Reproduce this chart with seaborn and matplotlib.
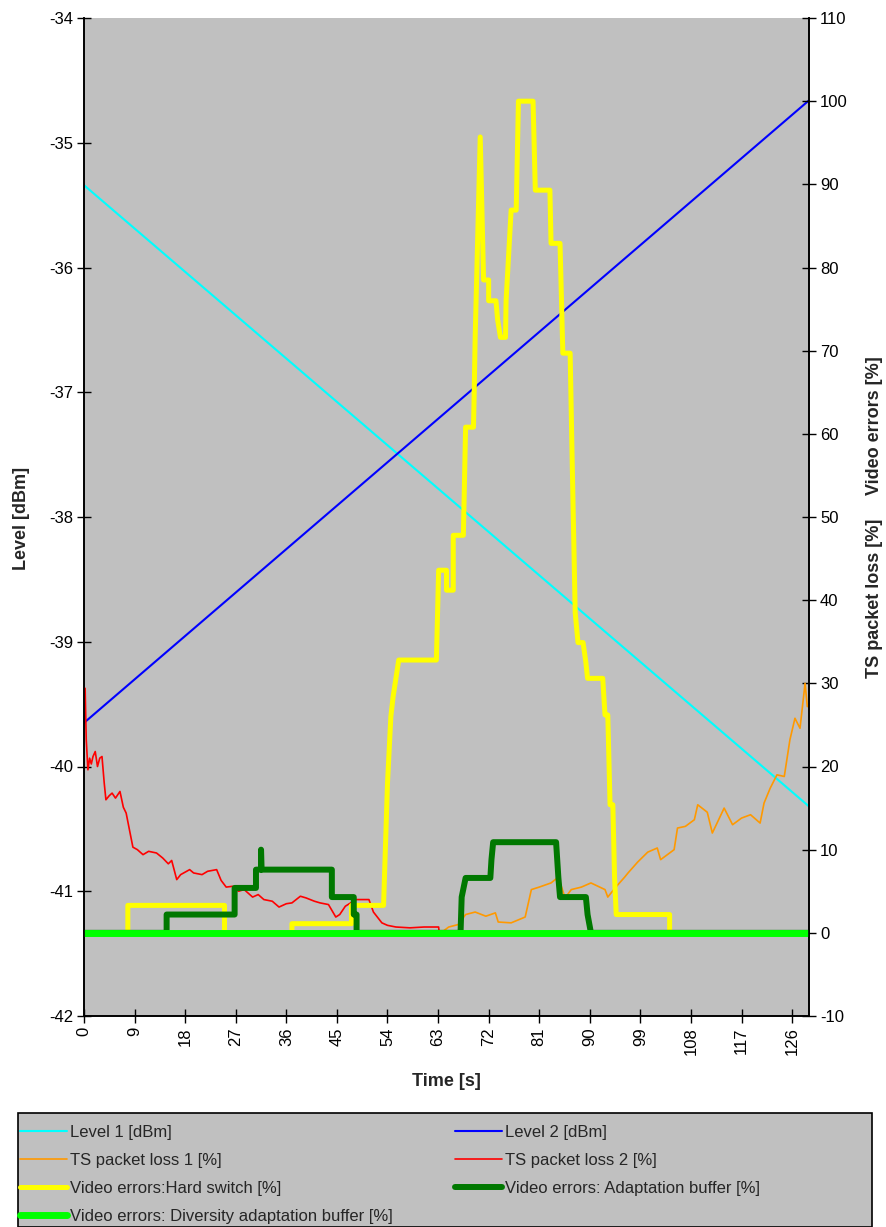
import numpy as np
import pandas as pd
import matplotlib
matplotlib.use("Agg")
import matplotlib.pyplot as plt
import seaborn as sns

# ---- data ----
level_t = [0, 129]
level1 = [-35.34, -40.32]
level2 = [-39.65, -34.66]

loss2_t = [0, 0.2, 0.4, 0.7, 1.0, 1.3, 1.6, 2.0, 2.4, 2.8, 3.2, 3.6, 3.9, 4.5,
           5.0, 5.6, 6.4, 7.0, 7.5, 8.2, 8.7, 9.5, 10.5, 11.5, 12.9, 14.0,
           15.0, 15.6, 16.5, 17.2, 18.8, 19.5, 21.0, 22.0, 23.6, 24.4, 25.3,
           26.5, 27.5, 28.5, 30.0, 31.0, 32.0, 33.5, 34.7, 36.0, 37.0, 38.5,
           39.5, 41.0, 42.0, 43.5, 44.8, 45.5, 46.5, 48.4, 50.7, 51.5, 53.0,
           54.0, 55.5, 58.0, 60.5, 63.1, 63.2, 129]
loss2 = [29.4, 29.4, 23.2, 19.6, 21.0, 20.3, 21.2, 21.8, 20.0, 21.0, 21.2, 18.0,
         16.0, 16.5, 16.8, 16.2, 17.0, 15.1, 14.4, 12.0, 10.3, 10.0, 9.4, 9.8,
         9.6, 9.0, 8.3, 8.7, 6.4, 7.0, 7.6, 7.2, 7.0, 7.4, 7.6, 6.3, 5.5,
         5.6, 5.0, 5.2, 4.3, 4.6, 4.0, 3.8, 3.1, 3.5, 3.6, 4.4, 4.2, 3.8,
         3.6, 3.4, 1.9, 2.2, 3.2, 4.0, 4.0, 2.5, 1.2, 0.9, 0.7, 0.6, 0.7,
         0.7, 0, 0]

loss1_t = [0, 63.5, 64.9, 66.6, 67.9, 69.6, 71.5, 73.2, 73.7, 76.0, 78.5, 79.6,
           81.0, 83.1, 84.4, 85.6, 86.7, 88.5, 90.2, 92.7, 93.2, 94.5, 96.2,
           96.8, 98.5, 100.3, 102.0, 102.6, 105.0, 105.6, 107.0, 108.6, 109.2,
           110.9, 111.8, 113.9, 115.4, 117.0, 118.6, 120.3, 121.0, 122.1, 123.3,
           124.6, 125.6, 126.5, 127.4, 128.3, 128.7]
loss1 = [0, 0, 0.7, 1.0, 2.2, 2.5, 2.0, 2.4, 1.3, 1.2, 1.9, 5.2,
         5.5, 6.0, 6.7, 4.2, 5.2, 5.5, 6.0, 5.2, 4.3, 5.4, 6.7,
         7.2, 8.5, 9.7, 10.2, 8.8, 10.0, 12.6, 12.8, 13.6, 15.4,
         14.5, 12.0, 15.0, 13.0, 13.8, 14.2, 13.2, 15.6, 17.4, 19.0,
         18.8, 23.2, 25.8, 24.6, 30.0, 27.2]

hard_t = [0, 7.8, 7.8, 25.0, 25.0, 37.0, 37.0, 47.6, 47.6, 53.3, 54.0, 54.6,
          55.0, 55.5, 56.0, 62.7, 63.1, 64.5, 64.5, 65.7, 65.7, 67.5, 67.9,
          69.3, 69.4, 69.6, 70.5, 71.1, 72.0, 72.0, 73.3, 73.6, 74.1, 75.0,
          75.1, 76.0, 76.9, 77.3, 79.9, 80.3, 82.9, 83.1, 84.7, 85.2, 86.5,
          86.8, 87.4, 87.9, 88.8, 89.3, 89.6, 92.3, 92.7, 93.2, 93.6, 94.1,
          94.4, 94.7, 104.2, 104.2, 129]
hard = [0, 0, 3.3, 3.3, 0, 0, 1.1, 1.1, 3.3, 3.3, 18.0, 26.0,
        28.4, 30.6, 32.8, 32.8, 43.6, 43.6, 41.2, 41.2, 47.8, 47.8, 60.8,
        60.8, 64.0, 71.6, 95.7, 78.5, 78.5, 76.0, 76.0, 73.7, 71.6, 71.6,
        76.0, 86.9, 86.9, 100.0, 100.0, 89.3, 89.3, 82.9, 82.9, 69.7, 69.7,
        58.9, 38.5, 34.9, 34.9, 32.5, 30.6, 30.6, 26.2, 26.2, 15.4, 15.4,
        6.7, 2.2, 2.2, 0, 0]

adapt_t = [0, 14.7, 14.7, 26.8, 26.8, 30.6, 30.6, 31.5, 31.5, 31.6, 44.1,
           44.1, 48.0, 48.0, 48.5, 48.5, 67.0, 67.2, 67.9, 72.3, 72.5, 72.8,
           84.0, 84.4, 84.7, 89.3, 89.6, 90.2, 129]
adapt = [0, 0, 2.2, 2.2, 5.4, 5.4, 7.6, 7.6, 10.0, 7.6, 7.6,
         4.3, 4.3, 2.2, 2.2, 0, 0, 4.3, 6.6, 6.6, 8.8, 10.9,
         10.9, 6.7, 4.3, 4.3, 2.2, 0, 0]

div_t = [0, 129]
div = [0, 0]

sns.set_style("ticks")
plt.rcParams["font.family"] = ["Liberation Sans", "DejaVu Sans"]
plt.rcParams["axes.unicode_minus"] = False

W, H = 887, 1227
fig = plt.figure(figsize=(W / 100, H / 100), dpi=100)
ax = fig.add_axes([84 / W, 1 - 1016 / H, (809 - 84) / W, (1016 - 18) / H])
ax.set_facecolor("#c0c0c0")
ax2 = ax.twinx()

handles = {}

def draw(axis, t, v, color, lw, label):
    df = pd.DataFrame({"t": t, "v": v})
    sns.lineplot(data=df, x="t", y="v", ax=axis, color=color, linewidth=lw,
                 estimator=None, sort=False, legend=False)
    line = axis.lines[-1]
    line.set_solid_joinstyle("round")
    handles[label] = line

draw(ax, level_t, level1, "#00ffff", 1.5, "Level 1 [dBm]")
draw(ax, level_t, level2, "#0000ff", 1.5, "Level 2 [dBm]")
draw(ax2, loss1_t, loss1, "#ff9900", 1.2, "TS packet loss 1 [%]")
draw(ax2, loss2_t, loss2, "#ff0000", 1.2, "TS packet loss 2 [%]")
draw(ax2, hard_t, hard, "#ffff00", 3.6, "Video errors:Hard switch [%]")
draw(ax2, adapt_t, adapt, "#007800", 4.3, "Video errors: Adaptation buffer [%]")
draw(ax2, div_t, div, "#00ff00", 5.0, "Video errors: Diversity adaptation buffer [%]")

ax.set_xlim(0, 129)
ax.set_ylim(-42, -34)
ax.set_yticks(np.arange(-42, -33, 1))
ax.set_xticks(np.arange(0, 127, 9))
ax.tick_params(axis="x", labelrotation=90)
ax2.set_ylim(-10, 110)
ax2.set_yticks(np.arange(-10, 111, 10))

for a in (ax, ax2):
    a.set_xlabel("")
    a.set_ylabel("")
    a.tick_params(direction="inout", length=10, width=1, labelsize=12,
                  colors="black", pad=3)
    a.spines["top"].set_visible(False)
    for s in ("left", "right", "bottom"):
        a.spines[s].set_color("black")
        a.spines[s].set_linewidth(1.2)

fig.text(446 / W, 1 - 1082 / H, "Time [s]", ha="center", va="center",
         fontsize=13, fontweight="bold")
fig.text(22 / W, 1 - 518 / H, "Level [dBm]", ha="center", va="center",
         rotation=90, fontsize=13, fontweight="bold")
fig.text(875 / W, 1 - 426 / H, "Video errors [%]", ha="center", va="center",
         rotation=90, fontsize=13, fontweight="bold")
fig.text(875 / W, 1 - 598 / H, "TS packet loss [%]", ha="center", va="center",
         rotation=90, fontsize=13, fontweight="bold")

# legend box spanning the bottom
box = plt.Rectangle((18 / W, 0.0), (872 - 18) / W, 1 - 1113 / H,
                    transform=fig.transFigure, facecolor="#c0c0c0",
                    edgecolor="black", linewidth=1.2, zorder=0)
fig.patches.append(box)

col1 = ["Level 1 [dBm]", "TS packet loss 1 [%]", "Video errors:Hard switch [%]",
        "Video errors: Diversity adaptation buffer [%]"]
col2 = ["Level 2 [dBm]", "TS packet loss 2 [%]", "Video errors: Adaptation buffer [%]"]
for names, x0 in ((col1, 20), (col2, 455)):
    fig.legend([handles[n] for n in names], names, loc="upper left",
               bbox_to_anchor=(x0 / W, 1 - 1125 / H), frameon=False,
               fontsize=12, handlelength=2.8, handletextpad=0.2,
               labelspacing=0.78, borderpad=0, borderaxespad=0)

fig.savefig("out.png", dpi=100)
